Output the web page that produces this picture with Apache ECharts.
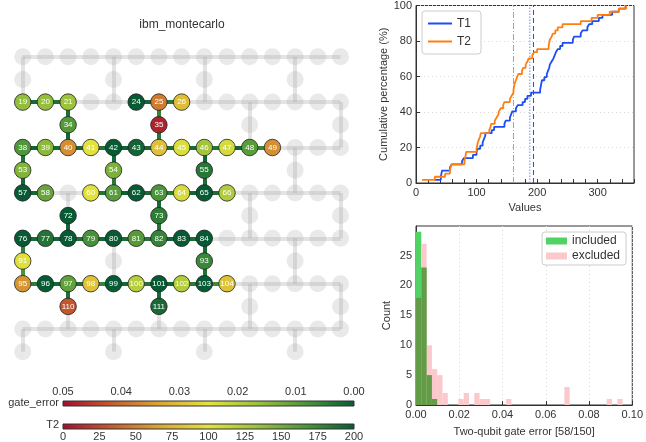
<!DOCTYPE html>
<html>
<head>
<meta charset="utf-8">
<script src="https://cdn.jsdelivr.net/npm/echarts@6/dist/echarts.min.js"></script>
<style>
html, body { margin: 0; padding: 0; background: #fff; }
#main { width: 646px; height: 442px; }
</style>
</head>
<body>
<div id="main"></div>
<script>
var FONT = '"Liberation Sans", Arial, sans-serif';

// selected qubits of ibm_montecarlo and their T2 (us)
var qubits = [19,20,21,24,25,26,34,35,38,39,40,41,42,43,44,45,46,47,48,49,53,54,55,57,58,60,61,62,63,64,65,66,72,73,76,77,78,79,80,81,82,83,84,91,93,95,96,97,98,99,100,101,102,103,104,110,111];
var t2 = [137,136,133,335,48,80,163,10,165,140,56,100,272,195,81,104,130,107,161,57,144,146,184,300,155,101,161,221,167,106,290,124,224,181,234,186,200,169,226,162,177,220,320,102,175,59,219,158,82,230,121,347,123,242,83,31,192];
// T1 of the same qubits (us)
var t1 = [31,41,42,43,56,59,76,79,94,100,102,106,110,112,114,115,125,129,146,148,155,157,159,165,168,176,180,184,190,205,206,207,208,212,216,218,220,221,224,227,229,231,234,238,242,259,261,272,275,283,286,291,302,308,324,335,346];
// vertical reference lines on the cdf
var t1Lines = [188, 194];
var t2Lines = [161];

// two-qubit gate error of the 58 used couplings (order of the coupling list below)
var gateErr = [0.0021,0.0032,0.0018,0.0041,0.0027,0.0015,0.0056,0.0038,0.0012,0.0022,
               0.0019,0.0034,0.0011,0.0017,0.0029,0.0023,0.0036,0.0014,0.0062,0.0031,
               0.0016,0.0020,0.0042,0.0013,0.0025,0.0018,0.0033,0.0009,0.0021,0.0044,
               0.0016,0.0028,0.0012,0.0019,0.0035,0.0022,0.0014,0.0030,0.0017,0.0024,
               0.0039,0.0011,0.0026,0.0053,0.0081,0.0020,0.0033,0.0047,0.0015,0.0028,
               0.0058,0.0018,0.0037,0.0013,0.0045,0.0067,0.0030,0.0021];
// histogram of the excluded couplings
var BIN = 0.00245;
var exclCounts = [18,27,10,6,5,2,0,0,1,2, 0,2,1,1,0,0,0,1,0,0, 0,0,0,0,0,0,0,0,3,0, 0,0,0,0,0,0,1,0,1,0];

// colour map red -> yellow -> green
var cmapColors = ['#a50d2c','#c65a2d','#dca633','#e3e23c','#9cc23c','#4a9639','#075b34'];
function cmap(t) { return echarts.color.lerp(Math.max(0, Math.min(1, t)), cmapColors); }

// heavy-hex layout, 133 qubits
var fullRows = [0,19,38,57,76,95,114];
var connStart = [15,34,53,72,91,110,129];
var connCols = [[0,4,8,12],[2,6,10,14]];
var pos = {};
var coupling = [];
for (var k = 0; k < 7; k++) {
    for (var c = 0; c < 15; c++) {
        pos[fullRows[k] + c] = [c, 2 * k];
        if (c < 14) coupling.push([fullRows[k] + c, fullRows[k] + c + 1]);
    }
    connCols[k % 2].forEach(function (col, j) {
        var q = connStart[k] + j;
        pos[q] = [col, 2 * k + 1];
        coupling.push([fullRows[k] + col, q]);
        if (k < 6) coupling.push([q, fullRows[k + 1] + col]);
    });
}
var sel = {};
qubits.forEach(function (q, i) { sel[q] = i; });
var usedEdges = coupling.filter(function (e) { return sel[e[0]] !== undefined && sel[e[1]] !== undefined; });

var bgNodes = Object.keys(pos).map(function (q) { return pos[q]; });
var bgLines = coupling.map(function (e) { return { coords: [pos[e[0]], pos[e[1]]] }; });
var selLines = usedEdges.map(function (e, i) {
    return { coords: [pos[e[0]], pos[e[1]]], lineStyle: { color: cmap(1 - gateErr[i] / 0.05) } };
});
var selNodes = qubits.map(function (q, i) {
    return { name: String(q), value: pos[q], itemStyle: { color: cmap(t2[i] / 200) } };
});

// cdf data
function cdf(arr) {
    var s = arr.slice().sort(function (a, b) { return a - b; });
    return s.map(function (v, i) { return [v, (i + 1) / s.length * 100]; });
}

// histogram data
var NB = exclCounts.length;
var inclCounts = [];
for (var b = 0; b < NB; b++) inclCounts.push(0);
gateErr.forEach(function (e) { inclCounts[Math.floor(e / BIN)]++; });
function binData(counts) { return counts.map(function (n, i) { return [i * BIN, (i + 1) * BIN, n]; }); }
var bothCounts = inclCounts.map(function (n, i) { return Math.min(n, exclCounts[i]); });

function histSeries(name, counts, color, z) {
    return {
        type: 'custom', name: name, xAxisIndex: 2, yAxisIndex: 2, z: z,
        itemStyle: { color: color },
        encode: { x: [0, 1], y: 2 },
        data: binData(counts),
        renderItem: function (params, api) {
            var h = api.value(2);
            if (!h) return;
            var p0 = api.coord([api.value(0), h]);
            var p1 = api.coord([api.value(1), 0]);
            return { type: 'rect', shape: { x: p0[0], y: p0[1], width: p1[0] - p0[0], height: p1[1] - p0[1] },
                     style: { fill: color } };
        }
    };
}

function cbarSeries(idx, range) {
    return {
        type: 'custom', xAxisIndex: idx, yAxisIndex: idx, silent: true,
        data: [[range[0], range[1]]],
        renderItem: function (params, api) {
            var a = api.coord([api.value(0), 1]);
            var b = api.coord([api.value(1), 0]);
            var x = Math.min(a[0], b[0]);
            var stops = cmapColors.map(function (col, i) { return { offset: i / (cmapColors.length - 1), color: col }; });
            return { type: 'rect',
                     shape: { x: x, y: a[1], width: Math.abs(b[0] - a[0]), height: b[1] - a[1] },
                     style: { fill: new echarts.graphic.LinearGradient(0, 0, 1, 0, stops), stroke: '#333', lineWidth: 1 } };
        }
    };
}

// a vertical reference line drawn as its own line series through the cdf axes
function vline(v, color, dash) {
    return { type: 'line', xAxisIndex: 1, yAxisIndex: 1, symbol: 'none', silent: true, z: 3,
             lineStyle: { color: color, width: 1, type: dash }, data: [[v, 0], [v, 100]] };
}

var axisTxt = { fontFamily: FONT, fontSize: 11, color: '#333' };
var spine = { lineStyle: { color: '#333', width: 1 } };
var inTick = { inside: true, length: 4, lineStyle: { color: '#333' } };
var dotted = { show: true, lineStyle: { color: '#d8d8d8', type: [1, 3], width: 1 } };

var chart = echarts.init(document.getElementById('main'));
chart.setOption({
    animation: false,
    textStyle: { fontFamily: FONT },
    graphic: [
        { type: 'text', x: 182, y: 25, style: { text: 'ibm_montecarlo', font: '12px ' + FONT, fill: '#333', textAlign: 'center', textVerticalAlign: 'middle' } },
        { type: 'text', x: 59, y: 403, style: { text: 'gate_error', font: '11px ' + FONT, fill: '#333', textAlign: 'right', textVerticalAlign: 'middle' } },
        { type: 'text', x: 59, y: 425, style: { text: 'T2', font: '11px ' + FONT, fill: '#333', textAlign: 'right', textVerticalAlign: 'middle' } }
    ],
    legend: [
        { data: [{ name: 'T1', icon: 'rect' }, { name: 'T2', icon: 'rect' }], orient: 'vertical', left: 422, top: 11,
          itemWidth: 24, itemHeight: 2, itemGap: 5,
          padding: [6, 10, 6, 6], backgroundColor: '#fff', borderColor: '#ccc', borderWidth: 1, borderRadius: 3,
          textStyle: { fontFamily: FONT, fontSize: 12, color: '#333', lineHeight: 13 } },
        { data: [{ name: 'included', icon: 'rect' }, { name: 'excluded', icon: 'rect' }], orient: 'vertical',
          left: 542, top: 232, itemWidth: 21, itemHeight: 7, itemGap: 3,
          padding: [3, 6, 3, 4], backgroundColor: '#fff', borderColor: '#ccc', borderWidth: 1, borderRadius: 3,
          textStyle: { fontFamily: FONT, fontSize: 12, color: '#333' } }
    ],
    grid: [
        { left: 0, top: 34, width: 363.2, height: 340.5 },
        { left: 416, top: 4, width: 218, height: 179, show: true, borderColor: '#333', borderWidth: 1, backgroundColor: 'transparent' },
        { left: 416, top: 226, width: 218, height: 179, show: true, borderColor: '#333', borderWidth: 1, backgroundColor: 'transparent' },
        { left: 63, top: 401, width: 291, height: 5 },
        { left: 63, top: 424, width: 291, height: 5 }
    ],
    xAxis: [
        { gridIndex: 0, type: 'value', min: -1, max: 15, show: false },
        { gridIndex: 1, type: 'value', min: 0, max: 360, interval: 20, axisLine: spine, axisTick: inTick,
          axisLabel: Object.assign({ margin: 4, formatter: function (v) { return v % 100 === 0 ? v : ''; } }, axisTxt),
          splitLine: { show: false }, name: 'Values', nameLocation: 'middle', nameGap: 19, nameTextStyle: axisTxt },
        { gridIndex: 2, type: 'value', min: 0, max: 0.1, interval: 0.02, axisLine: spine, axisTick: inTick,
          axisLabel: Object.assign({ margin: 4, formatter: function (v) { return v.toFixed(2); } }, axisTxt),
          splitLine: dotted, name: 'Two-qubit gate error [58/150]', nameLocation: 'middle', nameGap: 21, nameTextStyle: axisTxt },
        { gridIndex: 3, type: 'value', min: 0, max: 0.05, interval: 0.01, inverse: true, position: 'top',
          axisLine: { show: false }, axisTick: { show: false }, splitLine: { show: false },
          axisLabel: Object.assign({ margin: 4, formatter: function (v) { return v.toFixed(2); } }, axisTxt) },
        { gridIndex: 4, type: 'value', min: 0, max: 200, interval: 25, position: 'bottom',
          axisLine: { show: false }, axisTick: { show: false }, splitLine: { show: false },
          axisLabel: Object.assign({ margin: 2 }, axisTxt) }
    ],
    yAxis: [
        { gridIndex: 0, type: 'value', min: -1, max: 14, inverse: true, show: false },
        { gridIndex: 1, type: 'value', min: 0, max: 100, interval: 20, axisLine: spine, axisTick: inTick,
          axisLabel: Object.assign({ margin: 4 }, axisTxt), splitLine: dotted,
          name: 'Cumulative percentage (%)', nameLocation: 'middle', nameGap: 27, nameTextStyle: axisTxt },
        { gridIndex: 2, type: 'value', min: 0, max: 29.95, interval: 5, axisLine: spine, axisTick: inTick,
          axisLabel: Object.assign({ margin: 4, showMaxLabel: false }, axisTxt), splitLine: { show: false },
          name: 'Count', nameLocation: 'middle', nameGap: 24, nameTextStyle: axisTxt },
        { gridIndex: 3, type: 'value', min: 0, max: 1, show: false },
        { gridIndex: 4, type: 'value', min: 0, max: 1, show: false }
    ],
    series: [
        { type: 'lines', coordinateSystem: 'cartesian2d', xAxisIndex: 0, yAxisIndex: 0, z: 1, silent: true,
          lineStyle: { color: 'rgba(170,170,170,0.33)', width: 4, opacity: 1 }, data: bgLines },
        { type: 'scatter', xAxisIndex: 0, yAxisIndex: 0, z: 2, silent: true, symbolSize: 17,
          itemStyle: { color: 'rgba(170,170,170,0.33)' }, data: bgNodes },
        { type: 'lines', coordinateSystem: 'cartesian2d', xAxisIndex: 0, yAxisIndex: 0, z: 3, silent: true,
          lineStyle: { width: 4, opacity: 1 }, data: selLines },
        { type: 'scatter', xAxisIndex: 0, yAxisIndex: 0, z: 4, silent: true, symbolSize: 16.5,
          itemStyle: { borderColor: '#222', borderWidth: 0.8, opacity: 1 },
          label: { show: true, position: 'inside', formatter: '{b}', color: '#fff', fontSize: 8, fontFamily: FONT },
          data: selNodes },

        { name: 'T1', type: 'line', xAxisIndex: 1, yAxisIndex: 1, step: 'end', symbol: 'none', z: 4,
          lineStyle: { color: '#1c4df5', width: 1.8 }, itemStyle: { color: '#1c4df5' }, data: cdf(t1) },
        { name: 'T2', type: 'line', xAxisIndex: 1, yAxisIndex: 1, step: 'end', symbol: 'none', z: 5,
          lineStyle: { color: '#ff7f0e', width: 1.8 }, itemStyle: { color: '#ff7f0e' }, data: cdf(t2) },
        vline(t1Lines[0], '#6a8cf7', [1.5, 1.5]),
        vline(t1Lines[1], '#1c4df5', [5, 3]),
        vline(t2Lines[0], '#ff8f2e', [6, 2, 1, 2]),

        histSeries('included', inclCounts, '#50d264', 3),
        histSeries('excluded', exclCounts, '#fbc8cc', 4),
        histSeries('both', bothCounts, '#629c46', 5),

        cbarSeries(3, [0.05, 0]),
        cbarSeries(4, [0, 200])
    ]
});
</script>
</body>
</html>
